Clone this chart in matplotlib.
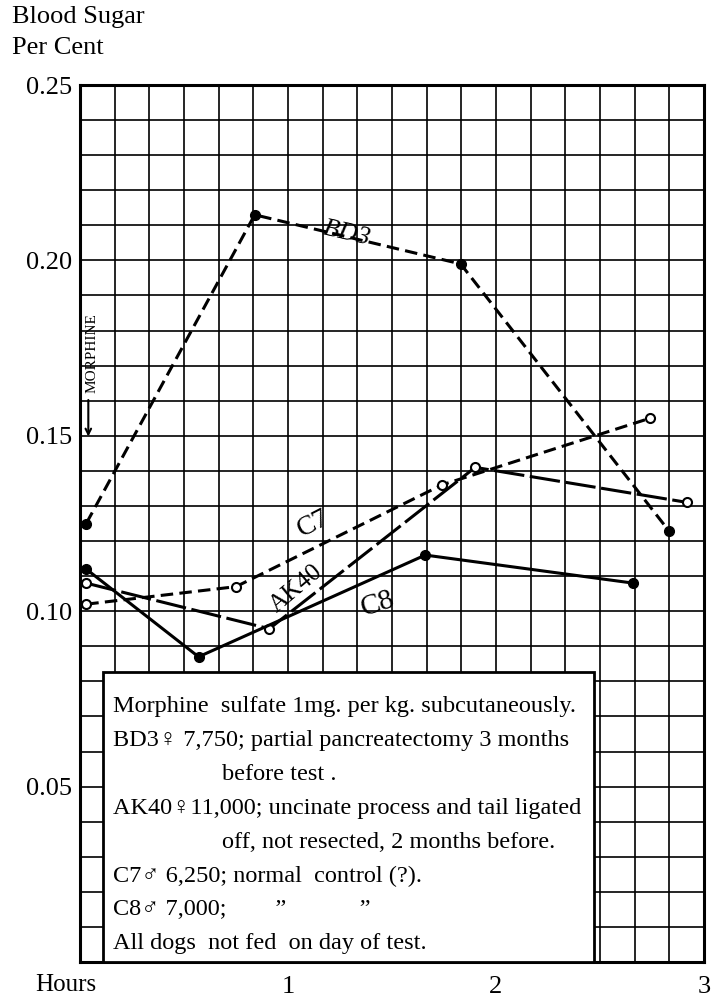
import matplotlib
matplotlib.use("Agg")
import matplotlib.pyplot as plt
from matplotlib.patches import Rectangle
from matplotlib.ticker import MultipleLocator

plt.rcParams["font.family"] = ["Liberation Serif", "DejaVu Serif"]
plt.rcParams["lines.scale_dashes"] = False

# hours after morphine, blood sugar per cent
BD3_T = [0.03, 0.84, 1.83, 2.83]
BD3_V = [0.125, 0.213, 0.199, 0.123]

AK40_T = [0.03, 0.91, 1.90, 2.92]
AK40_V = [0.108, 0.095, 0.141, 0.131]

C7_T = [0.03, 0.75, 1.74, 2.74]
C7_V = [0.102, 0.107, 0.136, 0.155]

C8_T = [0.03, 0.57, 1.66, 2.66]
C8_V = [0.112, 0.087, 0.116, 0.108]

Y_TICKS = [0.05, 0.10, 0.15, 0.20, 0.25]
Y_LABELS = ["0.05", "0.10", "0.15", "0.20", "0.25"]
X_TICKS = [1, 2, 3]

NOTE_LINES = [
    ("Morphine  sulfate 1mg. per kg. subcutaneously.", False),
    ("BD3\u2640 7,750; partial pancreatectomy 3 months", False),
    ("before test .", True),
    ("AK40\u264011,000; uncinate process and tail ligated", False),
    ("off, not resected, 2 months before.", True),
    ("C7\u2642 6,250; normal  control (?).", False),
    ("C8\u2642 7,000;        \u201d            \u201d", False),
    ("All dogs  not fed  on day of test.", False),
]

fig = plt.figure(figsize=(7.11, 10.01), dpi=100)
ax = fig.add_axes([80 / 711, 1 - 962 / 1001, 624 / 711, 877 / 1001])

ax.set_xlim(0, 3)
ax.set_ylim(0, 0.25)
ax.xaxis.set_minor_locator(MultipleLocator(1 / 6))
ax.yaxis.set_minor_locator(MultipleLocator(0.01))
ax.set_xticks(X_TICKS)
ax.set_yticks(Y_TICKS)
ax.set_yticklabels(Y_LABELS)
ax.grid(which="both", color="black", linewidth=1.2)
ax.set_axisbelow(True)
ax.tick_params(which="both", length=0, labelsize=19, pad=6)
ax.tick_params(axis="x", pad=10)
for s in ax.spines.values():
    s.set_linewidth(2.2)

ax.plot(BD3_T, BD3_V, color="black", lw=2.2, dashes=(9, 4.5),
        marker="o", ms=7, mfc="black", mec="black", zorder=4)
ax.plot(C7_T, C7_V, color="black", lw=2.2, dashes=(9, 4.5),
        marker="o", ms=6.5, mfc="white", mec="black", mew=1.5, zorder=4)
ax.plot(AK40_T, AK40_V, color="black", lw=2.2, dashes=(22, 4),
        marker="o", ms=6.5, mfc="white", mec="black", mew=1.5, zorder=4)
ax.plot(C8_T, C8_V, color="black", lw=2.2,
        marker="o", ms=7, mfc="black", mec="black", zorder=4)

ax.text(1.28, 0.2075, "BD3", fontsize=19, style="italic", rotation=-13,
        ha="center", va="center", zorder=5)
ax.text(1.12, 0.125, "C7", fontsize=20, rotation=27,
        ha="center", va="center", zorder=5)
ax.text(1.04, 0.1065, "AK40", fontsize=18, rotation=40,
        ha="center", va="center", zorder=5)
ax.text(1.43, 0.102, "C8", fontsize=21, rotation=18,
        ha="center", va="center", zorder=5)

ax.text(0.058, 0.1735, "MORPHINE", fontsize=11, rotation=90,
        ha="center", va="center", zorder=5)
ax.annotate("", xy=(0.04, 0.149), xytext=(0.04, 0.161),
            arrowprops=dict(arrowstyle="->", color="black", lw=1.5), zorder=5)

# note box over the lower part of the grid
ax.add_patch(Rectangle((0.037, 0.0), 0.787, 0.331, transform=ax.transAxes,
                       facecolor="white", edgecolor="black", lw=2, zorder=3))
y = 0.291
for txt, indent in NOTE_LINES:
    ax.text(0.228 if indent else 0.053, y, txt, transform=ax.transAxes,
            fontsize=17.5, ha="left", va="center", zorder=6)
    y -= 0.0386

fig.text(12 / 711, 1 - 17 / 1001, "Blood Sugar", fontsize=19, ha="left", va="center")
fig.text(12 / 711, 1 - 48 / 1001, "Per Cent", fontsize=19, ha="left", va="center")
fig.text(35 / 711, 1 - 985 / 1001, "Hours", fontsize=18, ha="left", va="center")

fig.savefig("out.png", dpi=100)
